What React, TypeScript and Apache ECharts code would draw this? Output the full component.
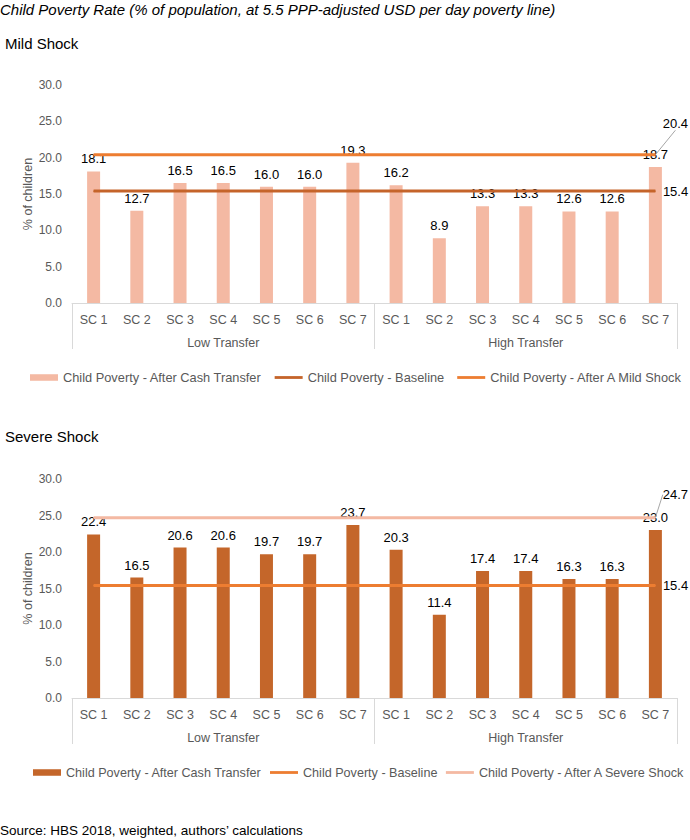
import React, { useEffect, useRef } from "react";
import * as echarts from "echarts";

const categories = ["SC 1", "SC 2", "SC 3", "SC 4", "SC 5", "SC 6", "SC 7", "SC 1", "SC 2", "SC 3", "SC 4", "SC 5", "SC 6", "SC 7"];
const groups = ["Low Transfer", "High Transfer"];

const mildCash = [18.1, 12.7, 16.5, 16.5, 16.0, 16.0, 19.3, 16.2, 8.9, 13.3, 13.3, 12.6, 12.6, 18.7];
const mildBaseline = [15.4, 15.4, 15.4, 15.4, 15.4, 15.4, 15.4, 15.4, 15.4, 15.4, 15.4, 15.4, 15.4, 15.4];
const mildShock = [20.4, 20.4, 20.4, 20.4, 20.4, 20.4, 20.4, 20.4, 20.4, 20.4, 20.4, 20.4, 20.4, 20.4];

const severeCash = [22.4, 16.5, 20.6, 20.6, 19.7, 19.7, 23.7, 20.3, 11.4, 17.4, 17.4, 16.3, 16.3, 23.0];
const severeBaseline = [15.4, 15.4, 15.4, 15.4, 15.4, 15.4, 15.4, 15.4, 15.4, 15.4, 15.4, 15.4, 15.4, 15.4];
const severeShock = [24.7, 24.7, 24.7, 24.7, 24.7, 24.7, 24.7, 24.7, 24.7, 24.7, 24.7, 24.7, 24.7, 24.7];

const FONT = "'Liberation Sans', Arial, sans-serif";
const GRAY = "#595959";
const AXIS_GRAY = "#d9d9d9";
const BAR_ICON = "path://M0,0H30V7H0Z";
const LINE_ICON = "path://M0,0H30V3H0Z";

function lastLabeled(values: number[], label: any) {
  return values.map((v, i) =>
    i === values.length - 1 ? { value: v, label: { show: true, ...label } } : v
  );
}

export default function App() {
  const ref = useRef<HTMLDivElement>(null);

  useEffect(() => {
    if (!ref.current) return;
    const chart = echarts.init(ref.current, undefined, { renderer: "svg" });

    const grids = [
      { left: 72, right: 13, top: 85, height: 218 },
      { left: 72, right: 13, top: 479, height: 219 },
    ];

    const xAxes: any[] = [];
    const yAxes: any[] = [];
    [0, 1].forEach((g) => {
      xAxes.push({
        type: "category",
        gridIndex: g,
        data: categories,
        axisLine: { show: true, lineStyle: { color: AXIS_GRAY, width: 1 } },
        axisTick: { show: false },
        axisLabel: { color: GRAY, fontSize: 12.5, fontFamily: FONT, margin: 10, interval: 0 },
      });
      xAxes.push({
        type: "category",
        gridIndex: g,
        position: "bottom",
        data: groups,
        axisLine: { show: false },
        axisTick: { show: true, length: 46, lineStyle: { color: AXIS_GRAY, width: 1 } },
        axisLabel: { color: GRAY, fontSize: 12.5, fontFamily: FONT, margin: 33 },
      });
      yAxes.push({
        type: "value",
        gridIndex: g,
        min: 0,
        max: 30,
        interval: 5,
        axisLine: { show: false },
        axisTick: { show: false },
        splitLine: { show: false },
        axisLabel: {
          color: GRAY,
          fontSize: 12,
          fontFamily: FONT,
          margin: 10,
          formatter: (v: number) => v.toFixed(1),
        },
        name: "% of children",
        nameLocation: "middle",
        nameRotate: 90,
        nameGap: 38,
        nameMoveOverlap: false,
        nameTextStyle: { color: GRAY, fontSize: 12.5, fontFamily: FONT },
      });
    });

    const barLabel = {
      show: true,
      position: "top",
      distance: 6,
      color: "#000",
      fontSize: 13,
      fontFamily: FONT,
      formatter: (p: any) => Number(p.value).toFixed(1),
    };
    const endRight = {
      position: "right",
      distance: 7,
      color: "#000",
      fontSize: 13,
      fontFamily: FONT,
      formatter: (p: any) => Number(p.value).toFixed(1),
    };
    const endUp = {
      position: "top",
      distance: 4,
      color: "#000",
      fontSize: 13,
      fontFamily: FONT,
      formatter: (p: any) => Number(p.value).toFixed(1),
    };

    const makeLine = (name: string, values: number[], color: string, xi: number, yi: number, lbl: any, dy: number | null) => ({
      type: "line",
      name,
      xAxisIndex: xi,
      yAxisIndex: yi,
      data: lastLabeled(values, lbl),
      symbol: "circle",
      symbolSize: 1,
      showSymbol: true,
      lineStyle: { color, width: 3 },
      itemStyle: { color },
      z: 3,
      label: { show: false },
      ...(dy !== null
        ? {
            labelLayout: { dx: 20, dy },
            labelLine: { show: true, lineStyle: { color: "#a6a6a6", width: 1 } },
          }
        : {}),
    });

    const series: any[] = [
      {
        type: "bar",
        name: "Child Poverty - After Cash Transfer",
        xAxisIndex: 0,
        yAxisIndex: 0,
        data: mildCash,
        barWidth: 13,
        itemStyle: { color: "#F4B9A3" },
        label: barLabel,
        z: 2,
      },
      makeLine("Child Poverty - Baseline", mildBaseline, "#C5642A", 0, 0, endRight, null),
      makeLine("Child Poverty - After A Mild Shock", mildShock, "#ED7D31", 0, 0, endUp, -20),
      {
        type: "bar",
        name: "Child Poverty - After Cash Transfer ",
        xAxisIndex: 2,
        yAxisIndex: 1,
        data: severeCash,
        barWidth: 13,
        itemStyle: { color: "#C4662A" },
        label: barLabel,
        z: 2,
      },
      makeLine("Child Poverty - Baseline ", severeBaseline, "#ED7D31", 2, 1, endRight, null),
      makeLine("Child Poverty - After A Severe Shock", severeShock, "#F4B9A3", 2, 1, endUp, -12),
    ];

    const legendCommon = {
      orient: "horizontal",
      width: 680,
      padding: 0,
      itemWidth: 28,
      itemHeight: 7,
      symbolKeepAspect: true,
      selectedMode: false,
    };

    const titleStyle = { fontWeight: "normal", color: "#000", fontFamily: FONT };

    chart.setOption({
      animation: false,
      backgroundColor: "#fff",
      title: [
        {
          text: "Child Poverty Rate (% of population, at 5.5 PPP-adjusted USD per day poverty line)",
          left: 0,
          top: 2,
          padding: 0,
          textStyle: { ...titleStyle, fontSize: 15, fontStyle: "italic" },
        },
        {
          text: "Mild Shock",
          left: 5,
          top: 36,
          padding: 0,
          textStyle: { ...titleStyle, fontSize: 15 },
        },
        {
          text: "Severe Shock",
          left: 5,
          top: 429,
          padding: 0,
          textStyle: { ...titleStyle, fontSize: 15 },
        },
        {
          text: "Source: HBS 2018, weighted, authors\u2019 calculations",
          left: 0,
          top: 823,
          padding: 0,
          textStyle: { ...titleStyle, fontSize: 13.5 },
        },
      ],
      grid: grids,
      xAxis: xAxes,
      yAxis: yAxes,
      legend: [
        {
          ...legendCommon,
          left: 30,
          top: 371,
          itemGap: 13,
          textStyle: { color: GRAY, fontSize: 12.8, fontFamily: FONT },
          data: [
            { name: "Child Poverty - After Cash Transfer", icon: BAR_ICON },
            { name: "Child Poverty - Baseline", icon: LINE_ICON },
            { name: "Child Poverty - After A Mild Shock", icon: LINE_ICON },
          ],
        },
        {
          ...legendCommon,
          left: 33,
          top: 766,
          itemGap: 5,
          textStyle: { color: GRAY, fontSize: 12.6, fontFamily: FONT },
          data: [
            { name: "Child Poverty - After Cash Transfer ", icon: BAR_ICON },
            { name: "Child Poverty - Baseline ", icon: LINE_ICON },
            { name: "Child Poverty - After A Severe Shock", icon: LINE_ICON },
          ],
        },
      ],
      series,
    });

    return () => {
      chart.dispose();
    };
  }, []);

  return (
    <div
      ref={ref}
      style={{ position: "absolute", left: 0, top: 0, width: 690, height: 840, background: "#fff" }}
    />
  );
}
